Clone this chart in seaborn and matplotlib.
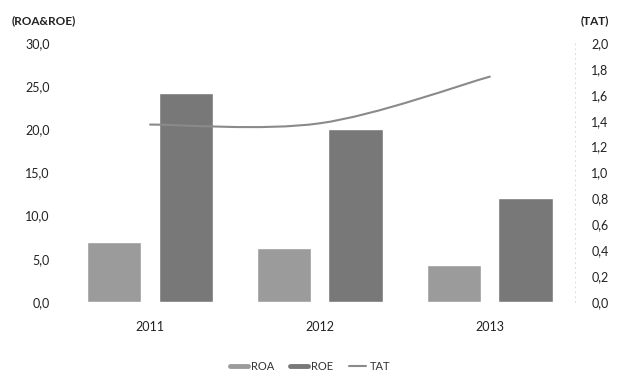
import numpy as np
import pandas as pd
import matplotlib
matplotlib.use("Agg")
import matplotlib.pyplot as plt
from matplotlib.path import Path
from matplotlib.patches import PathPatch
from matplotlib.lines import Line2D
import seaborn as sns

years = ["2011", "2012", "2013"]
roa = [7.0, 6.3, 4.3]
roe = [24.2, 20.0, 12.0]
tat = [1.37, 1.38, 1.74]
left_ticks = [0, 5, 10, 15, 20, 25, 30]
right_ticks = [0.0, 0.2, 0.4, 0.6, 0.8, 1.0, 1.2, 1.4, 1.6, 1.8, 2.0]

sns.set_theme(style="white")
plt.rcParams["font.family"] = ["Lato", "DejaVu Sans"]

df = pd.DataFrame({
    "year": years * 2,
    "metric": ["ROA"] * 3 + ["ROE"] * 3,
    "value": roa + roe,
})

c_roa = "#9b9b9b"
c_roe = "#787878"
c_tat = "#8a8a8a"

fig = plt.figure(figsize=(6.2, 3.77), dpi=100)
ax = fig.add_axes([0.105, 0.199, 0.822, 0.687])

sns.barplot(data=df, x="year", y="value", hue="metric",
            palette={"ROA": c_roa, "ROE": c_roe},
            width=0.84, gap=0.24, legend=False, ax=ax, saturation=1)

ax.set_xlim(-0.5, 2.5)
ax.set_ylim(0, 30)
ax.set_yticks(left_ticks)
ax.set_yticklabels([f"{t:.1f}".replace(".", ",") for t in left_ticks])
ax.set_xlabel("")
ax.set_ylabel("")
ax.tick_params(axis="y", length=0, pad=11, labelsize=9, colors="#222222")
ax.tick_params(axis="x", length=0, pad=14, labelsize=9, colors="#222222")
for s in ax.spines.values():
    s.set_visible(False)

# TAT on the secondary axis, drawn as a smoothed curve through its points
ax2 = ax.twinx()
ax2.set_ylim(0, 2.0)
ax2.set_xlim(-0.5, 2.5)
ax2.set_yticks(right_ticks)
ax2.set_yticklabels([f"{t:.1f}".replace(".", ",") for t in right_ticks])
ax2.tick_params(axis="y", length=0, pad=12, labelsize=9, colors="#222222")
for s in ax2.spines.values():
    s.set_visible(False)
ax2.spines["right"].set_visible(True)
ax2.spines["right"].set_linestyle((0, (1, 4)))
ax2.spines["right"].set_color("#dddddd")
ax2.spines["right"].set_linewidth(0.7)
ax2.grid(False)
ax.grid(False)

pts = np.column_stack([np.arange(len(tat)), tat])
ext = np.vstack([pts[0], pts, pts[-1]])
verts = [tuple(pts[0])]
codes = [Path.MOVETO]
for i in range(len(pts) - 1):
    p0, p1, p2, p3 = ext[i], ext[i + 1], ext[i + 2], ext[i + 3]
    c1 = p1 + (p2 - p0) / 6.0
    c2 = p2 - (p3 - p1) / 6.0
    verts += [tuple(c1), tuple(c2), tuple(p2)]
    codes += [Path.CURVE4] * 3
ax2.add_patch(PathPatch(Path(verts, codes), facecolor="none",
                        edgecolor=c_tat, lw=1.5, capstyle="round"))

fig.text(0.018, 0.945, "(ROA&ROE)", fontsize=8.5, fontweight="bold",
         color="#222222", va="center", ha="left")
fig.text(0.982, 0.945, "(TAT)", fontsize=8.5, fontweight="bold",
         color="#222222", va="center", ha="right")

handles = [Line2D([], [], color=c_roa, lw=3.5),
           Line2D([], [], color=c_roe, lw=3.5),
           Line2D([], [], color=c_tat, lw=1.5)]
fig.legend(handles, ["ROA", "ROE", "TAT"], loc="center",
           bbox_to_anchor=(0.5, 0.027), ncol=3, frameon=False,
           fontsize=8, handlelength=1.6, handletextpad=0.3,
           columnspacing=1.4, labelcolor="#333333")

fig.savefig("out.png", dpi=100)
